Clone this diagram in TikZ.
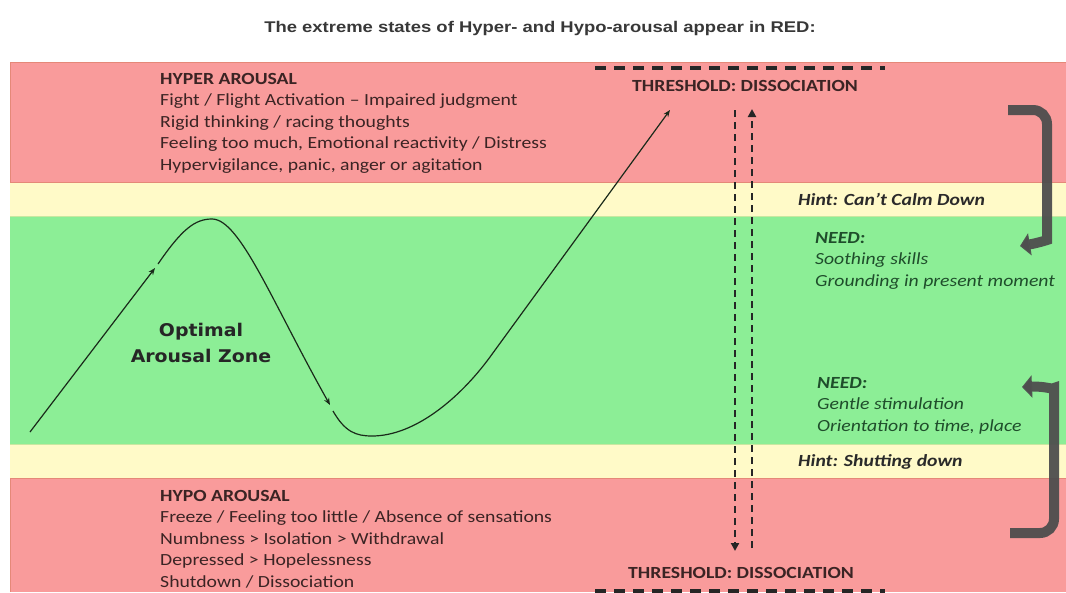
\documentclass[tikz,border=0pt]{standalone}
\usepackage{fontspec}
\setmainfont{Carlito}[FakeStretch=1.16]
\newfontfamily\titlefont{Liberation Sans}[FakeStretch=1.19]
\newfontfamily\zonefont{DejaVu Sans}[FakeStretch=1.08]
\usetikzlibrary{arrows.meta}

\definecolor{redband}{HTML}{F99B9B}
\definecolor{redline}{HTML}{E58878}
\definecolor{yellowband}{HTML}{FFFAC8}
\definecolor{greenband}{HTML}{8CEE96}
\definecolor{greenline}{HTML}{C8E8A0}
\definecolor{titlegray}{HTML}{383838}
\definecolor{redtext}{HTML}{3B2424}
\definecolor{greentext}{HTML}{1F4D2B}
\definecolor{hinttext}{HTML}{2A2A2A}
\definecolor{curvecol}{HTML}{1A2A1A}
\definecolor{bigarrowcol}{HTML}{4E4E4E}

\tikzset{
  bodytext/.style={anchor=north west, inner sep=0pt, align=left,
    font=\fontsize{17}{21.5}\selectfont},
  redtextbox/.style={bodytext, text=redtext},
  needbox/.style={bodytext, text=greentext, font=\itshape\fontsize{17}{21.5}\selectfont},
  hintbox/.style={anchor=west, inner sep=0pt, text=hinttext,
    font=\bfseries\itshape\fontsize{17}{20}\selectfont},
  threshbox/.style={anchor=west, inner sep=0pt, text=redtext,
    font=\bfseries\fontsize{17}{20}\selectfont},
  curve/.style={draw=curvecol, line width=1.2pt},
  curvetip/.style={curve, -{Stealth[length=7pt,width=5.5pt]}},
  threshdash/.style={draw=black!85, line width=3.5pt, dash pattern=on 11pt off 8pt},
  vdash/.style={draw=black!85, line width=2.2pt, dash pattern=on 7pt off 5pt},
  vtip/.style={-{Triangle[length=8pt,width=8pt]}},
  bigarrow/.style={draw=bigarrowcol, line width=10pt, draw opacity=0.95,
    -{Triangle[length=10pt,width=22pt]}},
}

\begin{document}
\begin{tikzpicture}[x=1pt,y=-1pt]
\useasboundingbox (0,0) rectangle (1066,592);
\fill[white] (0,0) rectangle (1066,592);

% zone bands
\fill[redband]    (10,62)  rectangle (1066,182);
\fill[yellowband] (10,182) rectangle (1066,216);
\fill[greenband]  (10,216) rectangle (1066,444);
\fill[yellowband] (10,444) rectangle (1066,478);
\fill[redband]    (10,478) rectangle (1066,592);
\draw[redline, line width=1pt] (10,62) -- (1066,62);
\draw[redline, line width=1pt] (10,62) -- (10,182);
\draw[redline, line width=1pt] (10,182) -- (1066,182);
\draw[redline, line width=1pt] (10,478) -- (1066,478);
\draw[redline, line width=1pt] (10,478) -- (10,592);
\draw[greenline, line width=1pt] (10,216) -- (1066,216);
\draw[greenline, line width=1pt] (10,444) -- (1066,444);

% title
\node[font=\titlefont\bfseries\fontsize{15.5}{18}\selectfont, text=titlegray]
  (title) at (540,28) {The extreme states of Hyper- and Hypo-arousal appear in RED:};

% hyper arousal block
\node[redtextbox] (hyper) at (160,73) {\textbf{HYPER AROUSAL}\\
Fight / Flight Activation -- Impaired judgment\\
Rigid thinking / racing thoughts\\
Feeling too much, Emotional reactivity / Distress\\
Hypervigilance, panic, anger or agitation};

% hypo arousal block
\node[redtextbox] (hypo) at (160,490) {\textbf{HYPO AROUSAL}\\
Freeze / Feeling too little / Absence of sensations\\
Numbness > Isolation > Withdrawal\\
Depressed > Hopelessness\\
Shutdown / Dissociation};

% optimal zone label
\node[font=\zonefont\bfseries\fontsize{17.5}{26}\selectfont, text=black!85, align=center]
  (optimal) at (201,343) {Optimal\\Arousal Zone};

% thresholds
\node[threshbox] (threshtop) at (632,86) {THRESHOLD: DISSOCIATION};
\node[threshbox] (threshbot) at (628,573) {THRESHOLD: DISSOCIATION};
\coordinate (tdA) at (595,68);
\coordinate (tdB) at (885,68);
\coordinate (bdA) at (595,591);
\coordinate (bdB) at (885,591);
\draw[threshdash] (tdA) -- (tdB);
\draw[threshdash] (bdA) -- (bdB);

% dissociation arrows
\coordinate (dnTop) at (735,110);
\coordinate (dnBot) at (735,551);
\coordinate (upBot) at (752,548);
\coordinate (upTop) at (752,109);
\draw[vdash, vtip] (dnTop) -- (dnBot);
\draw[vdash, vtip] (upBot) -- (upTop);

% hints
\node[hintbox] (hintup) at (798,199) {Hint: Can’t Calm Down};
\node[hintbox] (hintdown) at (798,462) {Hint: Shutting down};

% needs
\node[needbox] (needup) at (815,232) {\textbf{NEED:}\\
Soothing skills\\
Grounding in present moment};
\node[needbox] (needdown) at (817,377) {\textbf{NEED:}\\
Gentle stimulation\\
Orientation to time, place};

% arousal curve
\coordinate (c0) at (30,432);
\coordinate (c1) at (155,268);
\coordinate (c2) at (158,264);
\coordinate (peak) at (212,219);
\coordinate (c3) at (330,405);
\coordinate (c4) at (333,411);
\coordinate (trough) at (372,436);
\coordinate (c5) at (490,357);
\coordinate (c6) at (670,110);
\draw[curvetip] (c0) -- (c1);
\draw[curvetip] (c2) .. controls (182,229) and (195,219) .. (peak)
  .. controls (240,219) and (272,302) .. (c3);
\draw[curvetip] (c4) .. controls (345,432) and (356,436) .. (trough)
  .. controls (415,436) and (460,398) .. (c5) -- (c6);

% calming and activating arrows
\coordinate (calmA) at (1008,110);
\coordinate (calmB) at (1020,246);
\coordinate (actA) at (1010,533);
\coordinate (actB) at (1022,387);
\draw[bigarrow, rounded corners=14pt] (calmA) -| (1047,226)
  .. controls (1047,240) and (1038,243) .. (calmB);
\draw[bigarrow, rounded corners=14pt] (actA) -| (1054,402)
  .. controls (1054,390) and (1045,386) .. (actB);
\end{tikzpicture}
\end{document}
